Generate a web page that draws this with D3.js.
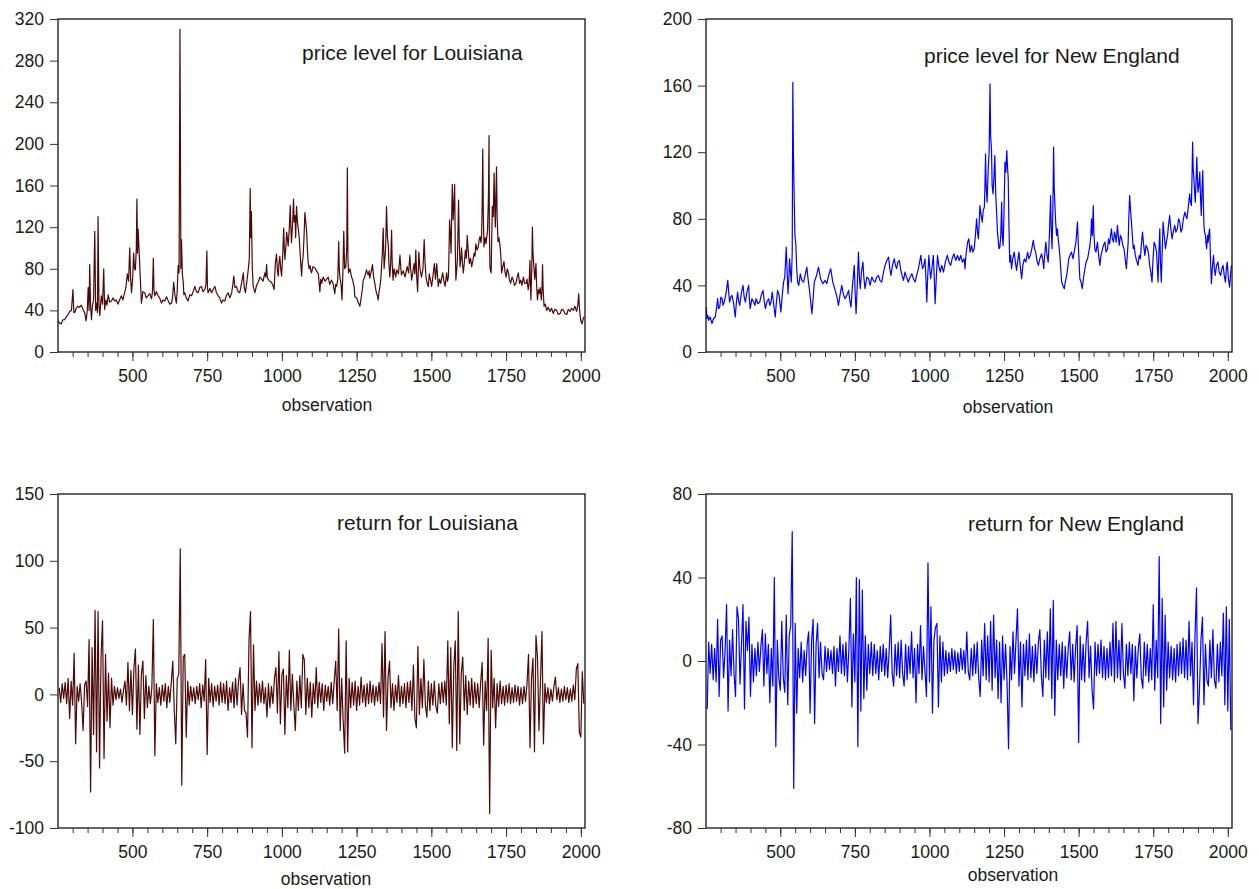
<!DOCTYPE html>
<html>
<head>
<meta charset="utf-8">
<script src="https://cdn.jsdelivr.net/npm/d3@7"></script>
<style>
body { margin: 0; background: #fff; }
svg text { font-family: "Liberation Sans", Arial, sans-serif; fill: #1a1a1a; }
</style>
</head>
<body>
<svg id="chart" width="1259" height="889"></svg>
<script>
// [observation, price level]
const laPrice = [[251,30],[256,28],[262,27],[267,31],[273,31],[279,34],[285,36],[290,39],[296,40],[301,60],[304,38],[307,38],[312,42],[318,44],[323,43],[329,45],[333,42],[336,40],[340,38],[345,30],[349,40],[352,62],[355,40],[357,84],[360,45],[363,31],[366,44],[370,50],[374,116],[377,40],[380,47],[383,38],[385,130],[388,45],[391,35],[394,48],[396,54],[400,46],[404,80],[407,41],[411,50],[415,45],[419,55],[424,48],[430,49],[435,52],[441,49],[446,50],[452,46],[457,50],[463,54],[468,50],[474,57],[478,62],[483,75],[487,68],[491,100],[494,70],[497,57],[501,72],[504,95],[507,80],[510,79],[513,100],[515,147],[517,95],[519,118],[522,100],[525,79],[528,60],[530,47],[535,58],[541,57],[546,52],[552,54],[558,56],[564,51],[567,58],[570,90],[572,60],[575,54],[580,58],[586,54],[591,52],[597,47],[602,50],[608,49],[614,53],[620,49],[625,46],[631,47],[634,52],[638,67],[642,55],[647,47],[650,60],[653,83],[656,76],[659,310],[662,80],[664,108],[667,75],[670,67],[672,55],[675,57],[680,52],[686,49],[692,55],[698,54],[703,58],[709,63],[714,58],[720,57],[725,62],[731,63],[736,58],[742,60],[746,65],[749,97],[751,62],[753,57],[759,61],[765,57],[770,60],[776,63],[781,57],[787,54],[792,52],[798,47],[803,50],[809,49],[814,54],[820,57],[826,52],[832,57],[836,65],[839,73],[843,62],[848,63],[853,58],[859,57],[865,66],[871,76],[874,62],[878,57],[882,66],[887,78],[891,90],[894,157],[896,110],[898,135],[901,80],[904,63],[907,60],[910,57],[915,64],[921,67],[926,72],[932,70],[937,68],[943,76],[946,72],[949,84],[951,72],[954,70],[959,68],[965,67],[970,64],[974,60],[978,85],[982,94],[985,78],[988,73],[990,85],[993,92],[996,80],[999,73],[1003,95],[1006,119],[1008,100],[1010,89],[1013,100],[1016,115],[1018,110],[1021,102],[1025,120],[1028,141],[1030,120],[1032,105],[1036,125],[1039,147],[1041,125],[1044,131],[1046,110],[1049,140],[1052,125],[1055,118],[1058,110],[1060,100],[1063,85],[1066,73],[1068,85],[1071,92],[1074,110],[1077,134],[1080,125],[1083,115],[1085,100],[1088,86],[1091,80],[1094,83],[1097,78],[1099,76],[1104,82],[1110,81],[1116,78],[1122,75],[1125,65],[1127,58],[1130,70],[1133,66],[1138,72],[1144,68],[1150,70],[1155,72],[1160,65],[1166,69],[1171,66],[1177,56],[1180,65],[1183,63],[1187,70],[1190,106],[1192,80],[1194,72],[1198,65],[1201,50],[1204,75],[1207,116],[1210,80],[1214,82],[1217,100],[1219,177],[1221,90],[1223,76],[1228,80],[1233,72],[1236,70],[1239,66],[1242,62],[1244,53],[1250,52],[1255,48],[1258,46],[1261,44],[1264,50],[1267,56],[1270,62],[1272,69],[1277,72],[1283,79],[1286,76],[1289,74],[1292,78],[1294,71],[1298,76],[1303,84],[1307,72],[1311,66],[1314,60],[1317,56],[1320,54],[1322,50],[1325,58],[1328,63],[1331,70],[1334,85],[1336,95],[1339,119],[1342,80],[1345,92],[1347,100],[1350,140],[1353,110],[1356,103],[1358,85],[1361,72],[1364,85],[1367,117],[1369,85],[1372,69],[1375,80],[1378,76],[1381,72],[1384,79],[1390,75],[1395,93],[1398,80],[1400,74],[1406,78],[1412,72],[1416,78],[1419,82],[1424,76],[1428,93],[1431,80],[1434,69],[1438,76],[1442,85],[1445,75],[1448,98],[1451,72],[1454,58],[1456,75],[1458,96],[1462,80],[1467,72],[1472,80],[1476,108],[1479,85],[1482,72],[1486,66],[1490,63],[1493,75],[1495,72],[1498,68],[1501,63],[1505,72],[1510,85],[1514,70],[1518,85],[1521,72],[1523,63],[1527,70],[1531,66],[1535,72],[1538,76],[1542,68],[1546,63],[1549,70],[1551,76],[1554,68],[1557,72],[1559,95],[1561,127],[1564,110],[1566,95],[1568,130],[1570,161],[1572,140],[1573,127],[1576,145],[1578,161],[1580,100],[1582,69],[1585,80],[1587,88],[1589,115],[1591,146],[1593,110],[1596,82],[1599,90],[1601,100],[1604,85],[1607,76],[1610,85],[1614,98],[1617,90],[1620,112],[1624,95],[1627,85],[1631,90],[1635,82],[1639,88],[1643,95],[1646,92],[1649,104],[1653,98],[1657,101],[1660,108],[1663,111],[1666,105],[1668,111],[1670,140],[1672,195],[1674,130],[1676,101],[1680,110],[1683,104],[1686,112],[1688,117],[1691,150],[1693,208],[1694,120],[1696,82],[1698,78],[1700,76],[1702,110],[1704,140],[1707,130],[1710,172],[1712,140],[1714,120],[1716,150],[1718,178],[1720,130],[1723,106],[1726,110],[1730,101],[1733,90],[1735,76],[1739,82],[1743,87],[1746,78],[1750,72],[1754,80],[1758,76],[1761,70],[1765,66],[1770,72],[1774,69],[1778,64],[1783,66],[1787,72],[1791,76],[1795,66],[1799,69],[1803,64],[1808,72],[1812,66],[1817,66],[1820,70],[1824,60],[1827,66],[1830,88],[1831,70],[1833,50],[1836,80],[1838,120],[1840,95],[1843,82],[1846,70],[1850,85],[1852,65],[1855,50],[1858,60],[1861,56],[1864,62],[1868,50],[1870,60],[1872,84],[1874,60],[1877,44],[1881,46],[1886,40],[1891,43],[1897,39],[1902,42],[1908,37],[1913,41],[1919,40],[1925,36],[1931,37],[1936,41],[1942,40],[1947,37],[1953,36],[1958,41],[1964,39],[1969,42],[1975,40],[1980,44],[1986,39],[1990,45],[1993,56],[1995,44],[1997,37],[2000,30],[2004,27],[2008,32],[2011,34]];

const nePrice = [[252,27],[254,20],[257,22],[260,19],[265,21],[271,17],[276,20],[282,21],[286,26],[290,32],[293,26],[297,27],[301,33],[305,32],[308,28],[312,30],[318,35],[324,43],[327,36],[330,30],[334,33],[338,34],[343,30],[349,21],[353,30],[357,36],[360,31],[364,28],[370,36],[375,40],[379,33],[383,30],[388,36],[394,40],[396,33],[399,26],[405,32],[411,30],[415,28],[419,32],[425,29],[431,30],[436,34],[442,37],[446,31],[450,26],[455,30],[461,32],[465,28],[469,30],[473,36],[477,30],[483,21],[487,30],[491,37],[496,34],[502,24],[506,33],[511,42],[515,45],[520,63],[523,48],[526,35],[529,45],[531,56],[534,48],[537,42],[540,60],[542,162],[544,120],[547,89],[549,70],[552,65],[555,50],[558,42],[562,40],[567,47],[572,43],[578,42],[583,46],[589,51],[593,44],[598,37],[602,30],[606,23],[610,32],[614,42],[620,45],[628,51],[635,44],[643,41],[650,43],[656,41],[662,46],[669,50],[676,42],[684,37],[690,33],[695,28],[700,34],[706,40],[711,35],[717,32],[723,34],[729,37],[733,31],[737,27],[742,40],[748,52],[751,35],[754,23],[758,40],[762,60],[765,45],[768,38],[772,48],[777,54],[780,45],[784,38],[790,45],[796,44],[801,40],[807,45],[812,43],[818,42],[823,45],[829,46],[834,43],[840,42],[845,47],[851,52],[857,55],[863,57],[867,50],[871,46],[876,52],[882,56],[886,52],[890,50],[894,54],[899,55],[903,50],[908,46],[913,43],[918,48],[923,45],[929,42],[935,45],[941,47],[946,44],[952,42],[957,46],[963,50],[967,54],[971,58],[974,53],[977,50],[981,52],[985,56],[988,45],[991,30],[994,45],[998,58],[1001,50],[1004,44],[1008,50],[1013,58],[1016,45],[1019,29],[1023,45],[1027,58],[1031,52],[1036,48],[1041,52],[1047,48],[1053,54],[1060,58],[1065,54],[1071,52],[1076,56],[1082,59],[1088,55],[1094,58],[1100,55],[1105,58],[1110,54],[1116,56],[1119,50],[1122,58],[1125,62],[1128,66],[1132,68],[1136,60],[1141,64],[1145,60],[1150,62],[1154,70],[1158,80],[1161,72],[1164,68],[1167,78],[1169,88],[1173,82],[1177,78],[1180,85],[1184,87],[1186,100],[1188,119],[1190,100],[1193,90],[1195,100],[1197,110],[1200,120],[1203,161],[1205,130],[1208,121],[1210,100],[1213,95],[1216,105],[1219,118],[1222,95],[1225,84],[1228,72],[1231,66],[1233,62],[1236,63],[1239,70],[1242,90],[1244,70],[1247,64],[1250,85],[1253,114],[1256,108],[1259,121],[1262,110],[1264,104],[1266,80],[1269,54],[1272,58],[1275,50],[1279,56],[1284,60],[1288,54],[1292,49],[1296,55],[1300,60],[1304,52],[1309,44],[1313,52],[1318,56],[1323,54],[1329,60],[1333,56],[1338,58],[1343,62],[1348,67],[1352,62],[1356,60],[1360,55],[1365,52],[1370,56],[1376,59],[1380,55],[1383,50],[1386,58],[1390,66],[1394,58],[1398,54],[1402,70],[1406,94],[1408,75],[1411,62],[1414,90],[1416,123],[1418,100],[1420,90],[1423,78],[1426,70],[1429,74],[1432,67],[1435,62],[1437,58],[1440,50],[1443,42],[1447,40],[1452,38],[1455,42],[1459,45],[1463,50],[1467,56],[1471,58],[1476,60],[1481,56],[1487,62],[1491,66],[1496,78],[1500,60],[1504,44],[1508,42],[1512,38],[1516,44],[1521,50],[1525,54],[1530,56],[1534,60],[1538,64],[1541,70],[1543,80],[1546,70],[1549,88],[1551,72],[1554,62],[1558,60],[1563,66],[1567,58],[1571,52],[1575,58],[1579,61],[1583,64],[1588,66],[1592,60],[1597,62],[1600,68],[1604,65],[1607,70],[1610,74],[1613,68],[1617,66],[1620,72],[1623,70],[1626,66],[1630,76],[1633,70],[1636,64],[1640,70],[1644,68],[1648,64],[1652,62],[1656,56],[1660,50],[1663,58],[1666,66],[1668,80],[1671,94],[1674,85],[1677,78],[1680,70],[1683,62],[1686,64],[1690,58],[1694,55],[1699,52],[1703,58],[1707,56],[1710,64],[1714,72],[1718,64],[1722,58],[1726,64],[1731,62],[1735,58],[1738,52],[1742,48],[1746,42],[1749,55],[1753,66],[1757,64],[1761,60],[1764,50],[1766,42],[1769,60],[1772,74],[1774,55],[1777,42],[1780,60],[1783,78],[1787,70],[1791,62],[1794,66],[1798,70],[1801,76],[1805,82],[1809,74],[1813,68],[1817,72],[1822,76],[1826,72],[1831,74],[1835,80],[1839,78],[1843,72],[1847,74],[1851,80],[1856,84],[1859,82],[1863,80],[1867,86],[1872,95],[1875,90],[1878,88],[1880,105],[1882,126],[1884,110],[1887,102],[1889,95],[1891,90],[1893,100],[1896,117],[1898,105],[1900,96],[1903,100],[1906,108],[1908,95],[1911,82],[1913,95],[1916,109],[1918,90],[1920,76],[1922,72],[1925,70],[1927,65],[1929,62],[1932,70],[1934,66],[1937,72],[1939,74],[1942,55],[1945,41],[1948,50],[1952,58],[1955,50],[1958,46],[1962,52],[1967,54],[1971,48],[1976,46],[1980,50],[1984,52],[1988,46],[1992,42],[1995,50],[1998,54],[2002,44],[2006,39],[2009,46],[2012,52]];

// returns, one value every 5 observations starting at 255 (10 per row = 50 obs)
const retStart = 255, retStep = 5;
const laReturn = [
  5,-6,8,-3,9,-7,12,-18,10,-8,        // 255
  31,-37,6,-5,8,-6,-27,7,10,-9,       // 305
  41,-73,35,-30,63,-43,62,-55,28,55,  // 355
  -48,30,-20,16,-25,12,-8,6,-4,5,     // 405
  -3,4,-6,3,10,-8,24,-12,18,-15,      // 455
  20,34,-26,22,-30,15,25,-18,14,-10,  // 505
  6,-7,5,56,-46,8,-6,5,-8,7,          // 555
  -5,8,-10,6,-6,9,25,-12,-37,12,      // 605
  15,109,-68,28,30,-32,10,-8,6,-5,    // 655
  5,-7,6,-4,8,-10,7,-5,26,-45,        // 705
  12,-6,8,-9,6,-5,7,-8,9,-6,          // 755
  8,-7,10,-12,5,-6,9,-10,12,-8,       // 805
  10,20,-15,8,-12,-14,-32,41,62,-40,  // 855
  37,-12,10,-8,8,-6,10,-7,5,-17,      // 905
  8,-10,6,-7,12,20,-14,32,-22,15,     // 955
  19,-30,14,-10,33,-12,15,-8,-27,10,  // 1005
  -12,14,-10,30,26,-15,12,-10,9,-17,  // 1055
  8,-7,20,-10,9,-6,8,-12,7,-5,        // 1105
  6,-8,9,-7,10,25,-12,49,-27,12,      // 1155
  -20,-44,40,-43,12,-10,9,-8,10,-12,  // 1205
  6,-8,13,-6,7,-9,8,-7,10,-6,         // 1255
  7,-8,6,-5,9,-7,38,-17,47,-27,       // 1305
  12,25,-10,8,-12,7,-6,14,-9,6,       // 1355
  -7,8,-10,9,-6,10,-12,22,-18,-25,    // 1405
  36,-15,12,-10,26,-8,-17,10,-12,8,   // 1455
  -8,10,-9,-14,8,-7,9,-6,10,-8,       // 1505
  40,-22,35,-40,20,40,-42,62,-37,15,  // 1555
  28,-12,14,-15,10,-8,12,-10,9,-7,    // 1605
  8,-10,9,24,-38,10,-12,42,-89,33,    // 1655
  -10,12,-25,8,-9,10,-7,6,-8,7,       // 1705
  -6,8,-7,5,-6,7,-5,6,-8,5,           // 1755
  -7,6,-5,8,30,-40,12,27,-43,44,      // 1805
  28,-27,10,47,-37,8,-6,5,-7,4,       // 1855
  -5,6,13,-4,5,-6,4,-5,6,-4,          // 1905
  5,-6,4,-5,7,-4,19,23,-28,-32,       // 1955
  17,-7                               // 2005
];
const neReturn = [
  -23,9,-6,8,-9,6,-10,20,-17,10,      // 255
  12,-8,5,27,-24,10,-7,15,-6,-17,     // 305
  26,20,-11,8,27,-23,19,5,21,-17,     // 355
  8,-10,6,-7,9,-5,7,15,-12,13,        // 405
  -6,8,-20,6,-12,40,-41,10,-8,-14,    // 455
  19,-8,-15,22,-21,12,17,62,-61,18,   // 505
  -25,6,-8,9,-10,5,-7,8,14,-25,       // 555
  10,20,-30,8,18,-8,9,-6,-9,7,        // 605
  -5,6,-4,5,-6,7,-12,6,-5,12,         // 655
  -6,8,-7,9,-10,6,30,-22,13,-10,      // 705
  40,-41,39,-24,34,-18,12,-14,8,-6,   // 755
  9,-7,8,-6,5,-9,7,-5,8,-7,           // 805
  6,-8,5,22,-6,-12,8,-7,9,-8,         // 855
  10,-6,-12,8,-9,7,-6,14,-8,6,        // 905
  -20,8,-6,17,-9,7,-5,-17,47,-10,     // 955
  26,-25,10,16,18,-22,12,-10,9,-7,    // 1005
  5,-6,4,-5,6,-4,5,-6,4,-5,           // 1055
  6,-4,5,-6,14,-5,-9,6,-7,8,          // 1105
  -6,9,-8,-17,10,-7,18,-9,12,-10,     // 1155
  19,-14,22,-8,10,-18,9,-20,12,-9,    // 1205
  8,-10,-42,7,-9,14,-6,10,25,-12,     // 1255
  9,-22,8,-7,10,-9,13,-8,7,-10,       // 1305
  8,-6,9,15,-7,-17,10,-8,14,-9,       // 1355
  25,-18,29,-26,10,-9,8,-7,9,-13,     // 1405
  7,-8,6,14,-9,8,-10,7,17,-39,        // 1455
  12,-9,8,-10,9,19,-8,7,-14,-23,      // 1505
  9,-7,8,-6,10,-8,7,-9,6,-8,          // 1555
  9,-7,18,-10,19,-8,10,-9,18,-6,      // 1605
  -13,8,-7,9,-6,8,-19,7,-8,6,         // 1655
  13,-8,-13,9,-7,8,-10,6,-9,27,       // 1705
  -14,10,-8,50,-30,30,-22,22,-14,9,   // 1755
  -8,7,-9,6,-10,8,-7,9,-6,11,         // 1805
  -8,10,-9,19,-7,9,-21,12,35,-30,     // 1855
  -14,10,21,-21,8,-9,-12,10,-8,15,    // 1905
  -9,-13,8,-10,9,-7,23,-21,26,-24,    // 1955
  20,-33                              // 2005
];

const xDomain = [251, 2014];
const minorTicks = d3.range(300, 2001, 50);
const majorTicks = [500, 750, 1000, 1250, 1500, 1750, 2000];

const maroon = "#4d0808", blue = "#0000ff";
const asPairs = vals => vals.map((v, i) => [retStart + i * retStep, v]);

var panels = [
    {title: "price level for Louisiana", data: laPrice, color: maroon,
     yTicks: d3.range(0, 321, 40), l: 58, r: 585, t: 19, b: 352,
     titleX: 302, titleY: 60, labX: 327, labY: 411},
    {title: "price level for New England", data: nePrice, color: blue,
     yTicks: d3.range(0, 201, 40), l: 706, r: 1232, t: 19, b: 352,
     titleX: 924, titleY: 63, labX: 1008, labY: 413},
    {title: "return for Louisiana", data: asPairs(laReturn), color: maroon,
     yTicks: d3.range(-100, 151, 50), l: 58, r: 585, t: 494, b: 828,
     titleX: 337, titleY: 530, labX: 326, labY: 885},
    {title: "return for New England", data: asPairs(neReturn), color: blue,
     yTicks: d3.range(-80, 81, 40), l: 706, r: 1232, t: 494, b: 828,
     titleX: 968, titleY: 531, labX: 1013, labY: 881}
];

const svg = d3.select("#chart");
const plain = d => String(d);   // keep hyphen minus like the original

panels.forEach(function(p, k) {
    var x = d3.scaleLinear().domain(xDomain).range([p.l, p.r]);
    var y = d3.scaleLinear().domain(d3.extent(p.yTicks)).range([p.b, p.t]);

    svg.append("clipPath").attr("id", "clip" + k)
        .append("rect")
        .attr("x", p.l).attr("y", p.t)
        .attr("width", p.r - p.l).attr("height", p.b - p.t);

    var line = d3.line()
        .x(d => x(d[0]))
        .y(d => y(d[1]));

    svg.append("path")
        .datum(p.data)
        .attr("clip-path", "url(#clip" + k + ")")
        .attr("fill", "none")
        .attr("stroke", p.color)
        .attr("stroke-width", 1.2)
        .attr("stroke-linejoin", "round")
        .attr("d", line);

    // frame
    svg.append("rect")
        .attr("x", p.l).attr("y", p.t)
        .attr("width", p.r - p.l).attr("height", p.b - p.t)
        .attr("fill", "none")
        .attr("stroke", "#111")
        .attr("stroke-width", 1.3);

    // y axis
    var yAxis = svg.append("g")
        .attr("transform", "translate(" + p.l + ",0)")
        .call(d3.axisLeft(y).tickValues(p.yTicks).tickSize(8).tickPadding(6).tickFormat(plain));
    yAxis.select(".domain").remove();
    yAxis.selectAll("text").attr("font-size", 17.5).attr("fill", "#1a1a1a");
    yAxis.selectAll("line").attr("stroke", "#333");

    // x axis, minor then labelled ticks
    var xMinor = svg.append("g")
        .attr("transform", "translate(0," + p.b + ")")
        .call(d3.axisBottom(x).tickValues(minorTicks).tickSize(5).tickFormat(""));
    xMinor.select(".domain").remove();
    xMinor.selectAll("line").attr("stroke", "#333");

    var xMajor = svg.append("g")
        .attr("transform", "translate(0," + p.b + ")")
        .call(d3.axisBottom(x).tickValues(majorTicks).tickSize(9).tickFormat(plain));
    xMajor.select(".domain").remove();
    xMajor.selectAll("line").attr("stroke", "#333");
    xMajor.selectAll("text")
        .attr("y", 30)
        .attr("dy", 0)
        .attr("font-size", 17.5)
        .attr("fill", "#1a1a1a");

    svg.append("text")
        .attr("x", p.labX).attr("y", p.labY)
        .attr("text-anchor", "middle")
        .attr("font-size", 17.5)
        .text("observation");

    svg.append("text")
        .attr("x", p.titleX).attr("y", p.titleY)
        .attr("font-size", 21)
        .text(p.title);
});
</script>
</body>
</html>
